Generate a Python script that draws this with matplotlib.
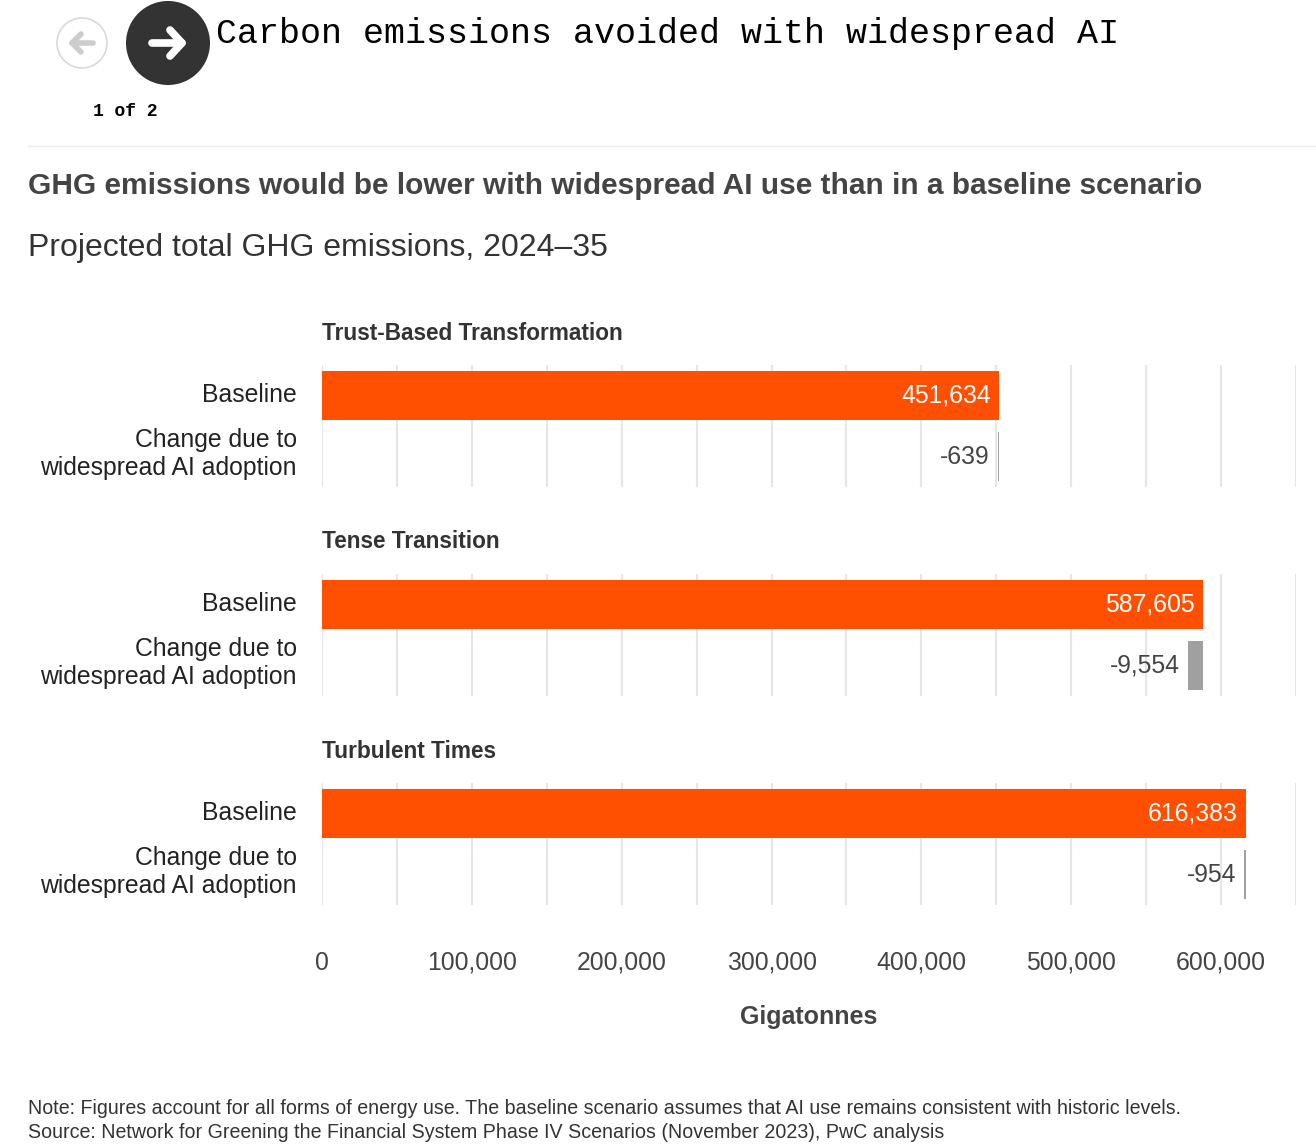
import matplotlib.pyplot as plt
from matplotlib.patches import Circle
import numpy as np

# chart data
scenarios = ["Trust-Based Transformation", "Tense Transition", "Turbulent Times"]
baseline = [451634, 587605, 616383]
change = [-639, -9554, -954]
row_labels = ["Baseline", "Change due to\nwidespread AI adoption"]
tick_values = [0, 100000, 200000, 300000, 400000, 500000, 600000]

ORANGE = "#FE5000"
GREY_BAR = "#A0A0A0"
TEXT = "#444444"
GRID = "#E6E6E6"
SANS = "Liberation Sans"
MONO = "Liberation Mono"

W, H = 1316, 1146
fig = plt.figure(figsize=(W / 100, H / 100), dpi=100)

# overlay axes in pixel coordinates for header / footer
bg = fig.add_axes([0, 0, 1, 1])
bg.set_xlim(0, W)
bg.set_ylim(H, 0)
bg.axis("off")

# navigation buttons
bg.add_patch(Circle((82, 43), 25, facecolor="white", edgecolor="#D9D9D9", lw=1.2))
bg.plot([72, 93], [43, 43], color="#CCCCCC", lw=4, solid_capstyle="round")
bg.plot([81, 72, 81], [34, 43, 52], color="#CCCCCC", lw=4,
        solid_capstyle="round", solid_joinstyle="round")
bg.add_patch(Circle((168, 43), 42, facecolor="#333333", edgecolor="none"))
bg.plot([152, 182], [43, 43], color="white", lw=5.5, solid_capstyle="round")
bg.plot([170, 182, 170], [30, 43, 56], color="white", lw=5.5,
        solid_capstyle="round", solid_joinstyle="round")

bg.text(216, 33, "Carbon emissions avoided with widespread AI", family=MONO,
        fontsize=25.2, color="black", va="center", ha="left")
bg.text(125, 111, "1 of 2", family=MONO, fontsize=13, color="black",
        va="center", ha="center", weight="bold")
bg.plot([28, W], [146, 146], color="#EBEBEB", lw=1)

bg.text(28, 186, "GHG emissions would be lower with widespread AI use than in a baseline scenario",
        family=SANS, fontsize=21.55, weight="bold", color=TEXT, va="center", ha="left")
bg.text(28, 248, "Projected total GHG emissions, 2024\u201335", family=SANS,
        fontsize=23, color="#333333", va="center", ha="left")

bg.text(809, 1017, "Gigatonnes", family=SANS, fontsize=18, weight="bold",
        color=TEXT, va="center", ha="center")
bg.text(28, 1109, "Note: Figures account for all forms of energy use. The baseline scenario "
        "assumes that AI use remains consistent with historic levels.",
        family=SANS, fontsize=14.1, color="#333333", va="center", ha="left")
bg.text(28, 1133, "Source: Network for Greening the Financial System Phase IV Scenarios "
        "(November 2023), PwC analysis",
        family=SANS, fontsize=14.1, color="#333333", va="center", ha="left")

# panels
panel_tops = [365, 574, 783]
x0, x1 = 322, 1296
ph = 122
xmax = 650000

for i, name in enumerate(scenarios):
    top = panel_tops[i]
    ax = fig.add_axes([x0 / W, 1 - (top + ph) / H, (x1 - x0) / W, ph / H])
    ax.set_xlim(0, xmax)
    ax.set_ylim(1.5, -0.5)
    for g in np.arange(0, xmax + 1, 50000):
        ax.axvline(g, color=GRID, lw=1.5, zorder=0)
    for s in ax.spines.values():
        s.set_visible(False)
    ax.set_yticks([])
    ax.patch.set_alpha(0)

    b = baseline[i]
    c = change[i]
    ax.barh(0, b, height=0.79, color=ORANGE, zorder=2)
    ax.barh(1, c, left=b, height=0.79, color=GREY_BAR, zorder=2)
    px = xmax / (x1 - x0)
    ax.text(b - 8 * px, 0, f"{b:,}", color="white", fontsize=17.8, family=SANS,
            ha="right", va="center", zorder=3)
    ax.text(b + c - 8 * px, 1, f"{c:,}", color=TEXT, fontsize=17.8, family=SANS,
            ha="right", va="center", zorder=3)

    bg.text(322, top - 32, name, family=SANS, fontsize=16.25, weight="bold",
            color="#333333", va="center", ha="left")
    bg.text(297, top + 30, row_labels[0], family=SANS, fontsize=17.8,
            color="#222222", va="center", ha="right")
    bg.text(297, top + 89, row_labels[1], family=SANS, fontsize=17.8,
            color="#222222", va="center", ha="right", linespacing=1.2)

    if i == len(scenarios) - 1:
        ax.set_xticks(tick_values)
        ax.set_xticklabels([f"{v:,}" for v in tick_values], family=SANS,
                           fontsize=17.8, color=TEXT)
        ax.tick_params(axis="x", length=0, pad=33)
    else:
        ax.set_xticks([])

fig.savefig("out.png", dpi=100)
